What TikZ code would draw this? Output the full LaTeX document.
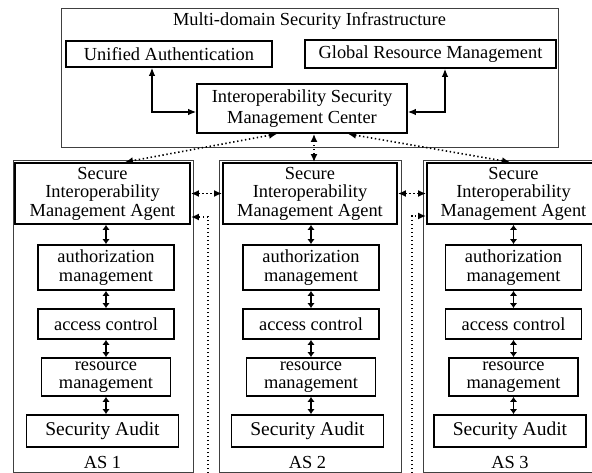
\documentclass[tikz,border=0pt]{standalone}
\usepackage{fontspec}
\setmainfont{Liberation Serif}
\usetikzlibrary{arrows.meta}
\begin{document}
\begin{tikzpicture}[x=1pt,y=-1pt,
  box/.style={draw, line width=1.8pt, inner sep=0pt, align=center, font=\fontsize{18.4}{18.6}\selectfont},
  frame/.style={draw=black!75, line width=0.9pt, inner sep=0pt},
  lbl/.style={inner sep=0pt, font=\fontsize{18.4}{18.6}\selectfont},
  sarr/.style={line width=1.1pt, {Latex[length=8pt,width=6.5pt]}-{Latex[length=8pt,width=6.5pt]}},
  varr/.style={line width=1.6pt, {Latex[length=5pt,width=7.5pt]}-{Latex[length=5pt,width=7.5pt]}},
  dotl/.style={line width=1.6pt, dash pattern=on 1.4pt off 2.6pt},
  darr/.style={dotl, {Latex[length=8pt,width=7pt]}-{Latex[length=8pt,width=7pt]}},
  darrend/.style={dotl, -{Latex[length=8pt,width=7pt]}}
]
\useasboundingbox (0,0) rectangle (592,473);
% top frame
\node[frame, minimum width=497pt, minimum height=139pt] (mdsi) at (309.5,77.5) {};
\node[lbl] (title) at (309.5,21) {Multi-domain Security Infrastructure};
\node[box, minimum width=206pt, minimum height=26pt] (ua) at (169,54) {Unified Authentication};
\node[box, minimum width=251pt, minimum height=28pt] (gr) at (430.5,54) {Global Resource Management};
\node[box, minimum width=210pt, minimum height=49pt, font=\fontsize{18.4}{21}\selectfont] (ismc) at (302,108.5) {Interoperability Security\\Management Center};
\draw[sarr] ([xshift=-17pt]ua.south) |- ([yshift=-3.5pt]ismc.west);
\draw[sarr] ([xshift=14.5pt]gr.south) |- ([yshift=-3.5pt]ismc.east);

% AS frames
\node[frame, minimum width=180pt, minimum height=312pt] (as1f) at (103,316) {};
\node[frame, minimum width=182pt, minimum height=312pt] (as2f) at (310,316) {};
\node[frame, minimum width=181pt, minimum height=312pt] (as3f) at (513.5,316) {};

% agents
\node[box, minimum width=175pt, minimum height=61pt] (ag1) at (102.5,193.5) {Secure\\Interoperability\\Management Agent};
\node[box, minimum width=174pt, minimum height=61pt] (ag2) at (310,193.5) {Secure\\Interoperability\\Management Agent};
\node[box, minimum width=173pt, minimum height=61pt] (ag3) at (513.5,193.5) {Secure\\Interoperability\\Management Agent};

% columns
\foreach \i/\c in {1/106,2/311,3/513.5}{
  \node[box, minimum width=136pt, minimum height=45pt] (auth\i) at (\c,267.5) {authorization\\management};
  \node[box, minimum width=136pt, minimum height=30pt] (acc\i) at (\c,324) {access control};
  \node[box, minimum width=129pt, minimum height=38pt] (res\i) at (\c,377) {resource\\management};
  \node[box, minimum width=152pt, minimum height=32pt, font=\fontsize{19.5}{20}\selectfont] (aud\i) at (\c-3.5,431) {Security Audit};
  \node[lbl] (asl\i) at (\c-3.5,462) {AS \i};
  \draw[varr] (auth\i.north |- ag\i.south) -- (auth\i.north);
  \draw[varr] (auth\i.south) -- (acc\i.north);
  \draw[varr] (acc\i.south) -- (res\i.north);
  \draw[varr] (res\i.south) -- (res\i.south |- aud\i.north);
}

% dotted links
\draw[darr] ([xshift=-25pt]ismc.south) -- ([xshift=22.5pt]ag1.north);
\draw[darr] ([xshift=12pt]ismc.south) -- ([xshift=12pt]ismc.south |- ag2.north);
\draw[darr] ([xshift=46pt]ismc.south) -- ([xshift=-3.5pt]ag3.north);
\draw[darr] (ag1.east) -- (ag2.west);
\draw[darr] (ag2.east) -- (ag3.west);
\coordinate (b1) at (208,473);
\coordinate (b2) at (412,473);
\draw[darrend] (b1) |- ([yshift=-23.5pt]ag1.east);
\draw[darrend] (b2) |- ([yshift=-22.5pt]ag3.west);
\end{tikzpicture}
\end{document}
